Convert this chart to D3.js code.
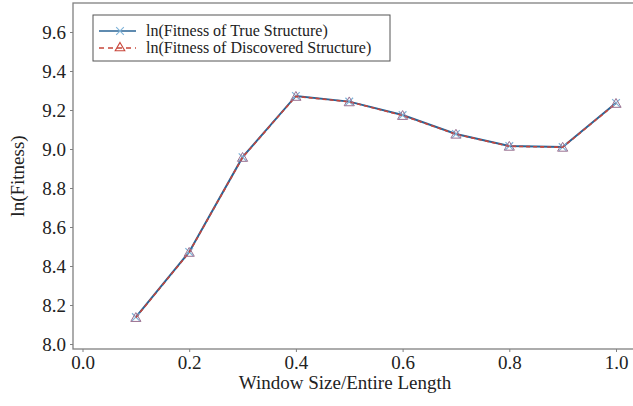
<!DOCTYPE html>
<html>
<head>
<meta charset="utf-8">
<script src="https://cdn.jsdelivr.net/npm/d3@7"></script>
<style>
  body { margin: 0; background: #fff; }
</style>
</head>
<body>
<svg id="chart" width="633" height="406"></svg>
<script>
// datos
const windowRatio = [0.1, 0.2, 0.3, 0.4, 0.5, 0.6, 0.7, 0.8, 0.9, 1.0];
const fitnessTrue = [8.138, 8.472, 8.958, 9.272, 9.243, 9.174, 9.077, 9.015, 9.010, 9.236];
const fitnessDisc = [8.136, 8.470, 8.957, 9.270, 9.242, 9.172, 9.076, 9.014, 9.009, 9.234];
const xTicks = [0.0, 0.2, 0.4, 0.6, 0.8, 1.0];
const yTicks = [8.0, 8.2, 8.4, 8.6, 8.8, 9.0, 9.2, 9.4, 9.6];
const seriesNames = ["ln(Fitness of True Structure)", "ln(Fitness of Discovered Structure)"];

const SERIF = "'Liberation Serif', 'DejaVu Serif', serif";
const m = { left: 73, top: 3, bottom: 349 };

const svg = d3.select("#chart");

// 0.0 -> x=82.5, 1.0 -> x=616
const x = d3.scaleLinear().domain([0, 1]).range([82.5, 616]);
const y = d3.scaleLinear().domain([8.0, 9.6]).range([344, 32]);
const xRight = x(1.04);

const axisCol = "#808080";

// marco
svg.append("rect")
  .attr("x", m.left).attr("y", m.top)
  .attr("width", xRight - m.left).attr("height", m.bottom - m.top)
  .attr("fill", "none").attr("stroke", axisCol).attr("stroke-width", 1.3);

// ejes
const gx = svg.append("g").attr("transform", `translate(0,${m.bottom})`)
  .call(d3.axisBottom(x).tickValues(xTicks).tickFormat(d3.format(".1f")).tickSize(3).tickPadding(4));
const gy = svg.append("g").attr("transform", `translate(${m.left},0)`)
  .call(d3.axisLeft(y).tickValues(yTicks).tickFormat(d3.format(".1f")).tickSize(3).tickPadding(4));
[gx, gy].forEach(g => {
  g.attr("font-family", SERIF);
  g.select(".domain").remove();
  g.selectAll(".tick line").attr("stroke", axisCol);
  g.selectAll(".tick text").attr("font-size", 19).attr("fill", "#222").style("font-family", SERIF);
});

// titulos de ejes
svg.append("text")
  .attr("x", 345).attr("y", 389)
  .attr("text-anchor", "middle").attr("font-size", 19)
  .style("font-family", SERIF).attr("fill", "#222")
  .text("Window Size/Entire Length");
svg.append("text")
  .attr("transform", "translate(24,176) rotate(-90)")
  .attr("text-anchor", "middle").attr("font-size", 19)
  .style("font-family", SERIF).attr("fill", "#222")
  .text("ln(Fitness)");

const line = d3.line().x((d, i) => x(windowRatio[i])).y(d => y(d));

// serie verdadera
svg.append("path").datum(fitnessTrue)
  .attr("d", line).attr("fill", "none")
  .attr("stroke", "#2a6496").attr("stroke-width", 2);
svg.append("g").selectAll("path")
  .data(fitnessTrue).enter().append("path")
  .attr("transform", (d, i) => `translate(${x(windowRatio[i])},${y(d)})`)
  .attr("d", d3.symbol().type(d3.symbolX).size(40))
  .attr("fill", "none").attr("stroke", "#7fb3d8").attr("stroke-width", 1.2);

// serie descubierta
svg.append("path").datum(fitnessDisc)
  .attr("d", line).attr("fill", "none")
  .attr("stroke", "#c8453a").attr("stroke-width", 1.6).attr("stroke-dasharray", "4,3");
svg.append("g").selectAll("path")
  .data(fitnessDisc).enter().append("path")
  .attr("transform", (d, i) => `translate(${x(windowRatio[i])},${y(d) + 1})`)
  .attr("d", d3.symbol().type(d3.symbolTriangle).size(45))
  .attr("fill", "none").attr("stroke", "#9a7090").attr("stroke-width", 1);

// leyenda
const leg = svg.append("g");
leg.append("rect")
  .attr("x", 93).attr("y", 15).attr("width", 297).attr("height", 46)
  .attr("fill", "#fff").attr("stroke", "#555").attr("stroke-width", 1);
const legRows = [
  { name: seriesNames[0], y: 31, col: "#2a6496", dash: null, sym: d3.symbolX, symCol: "#7fb3d8" },
  { name: seriesNames[1], y: 48, col: "#c8453a", dash: "5,4", sym: d3.symbolTriangle, symCol: "#c8453a" }
];
legRows.forEach(r => {
  leg.append("line")
    .attr("x1", 99).attr("x2", 136).attr("y1", r.y).attr("y2", r.y)
    .attr("stroke", r.col).attr("stroke-width", 1.6)
    .attr("stroke-dasharray", r.dash);
  leg.append("path")
    .attr("transform", `translate(120,${r.y})`)
    .attr("d", d3.symbol().type(r.sym).size(40))
    .attr("fill", "none").attr("stroke", r.symCol).attr("stroke-width", 1.1);
  leg.append("text")
    .attr("x", 146).attr("y", r.y + 5)
    .attr("font-size", 16)
    .style("font-family", SERIF).attr("fill", "#222")
    .text(r.name);
});
</script>
</body>
</html>
